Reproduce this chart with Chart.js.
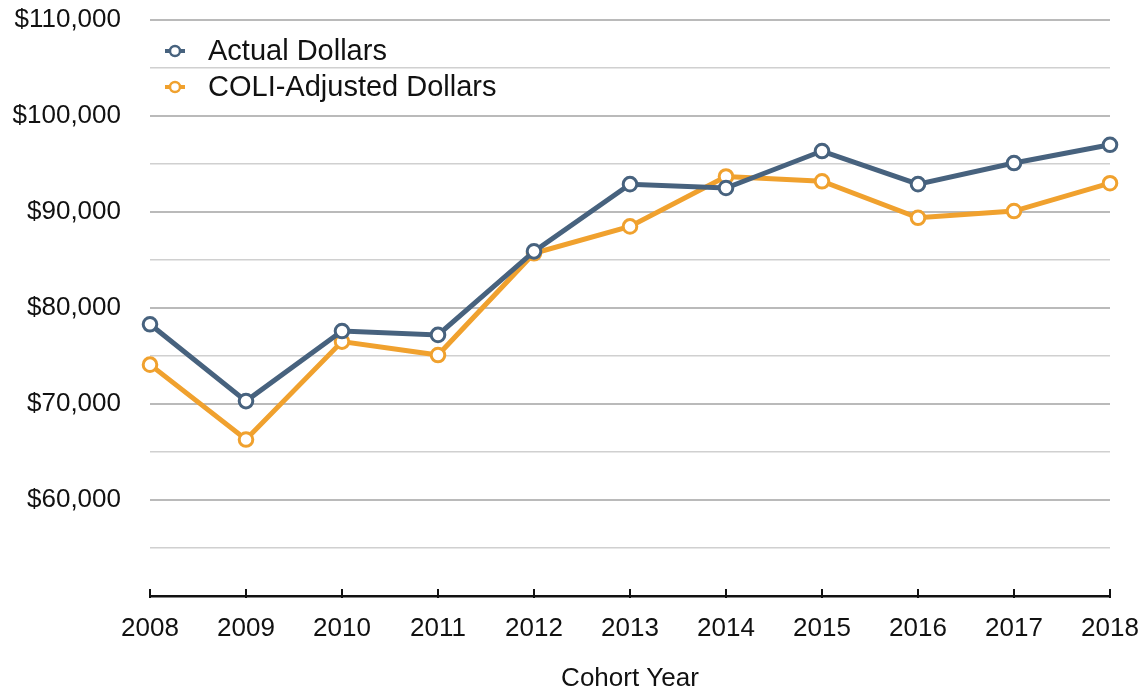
<!DOCTYPE html>
<html>
<head>
<meta charset="utf-8">
<script src="https://cdn.jsdelivr.net/npm/chart.js@4/dist/chart.umd.min.js"></script>
<style>
  html, body { margin: 0; padding: 0; background: #ffffff; }
  #wrap { width: 1146px; height: 692px; position: relative; }
</style>
</head>
<body>
<div id="wrap"><canvas id="c" width="1146" height="692"></canvas></div>
<script>
const years = ['2008','2009','2010','2011','2012','2013','2014','2015','2016','2017','2018'];
const actualDollars = [78300, 70300, 77600, 77200, 85900, 92900, 92500, 96350, 92900, 95100, 97000];
const coliAdjusted  = [74100, 66300, 76500, 75100, 85700, 88500, 93700, 93200, 89400, 90100, 93000];
const seriesNames = ['Actual Dollars', 'COLI-Adjusted Dollars'];
const seriesColors = ['#47627e', '#f0a12e'];
const yMin = 50000, yMax = 110000, yStep = 5000, yLabelStep = 10000;
const xTitle = 'Cohort Year';

const FONT = '"Liberation Sans", Arial, Helvetica, sans-serif';

const upTicks = {
  id: 'upTicks',
  afterDraw(chart) {
    const xs = chart.scales.x;
    const ctx = chart.ctx;
    ctx.save();
    ctx.strokeStyle = '#111';
    ctx.lineWidth = 2;
    xs.ticks.forEach((t, i) => {
      const x = xs.getPixelForTick(i);
      ctx.beginPath();
      ctx.moveTo(x, xs.top - 7);
      ctx.lineTo(x, xs.top + 2);
      ctx.stroke();
    });
    ctx.restore();
  }
};

const customLegend = {
  id: 'customLegend',
  afterDraw(chart) {
    const ctx = chart.ctx;
    const area = chart.chartArea;
    ctx.save();
    chart.data.datasets.forEach((ds, i) => {
      const cy = area.top + 31 + 36 * i;
      const cx = area.left + 25;
      ctx.strokeStyle = ds.borderColor;
      ctx.lineWidth = 4;
      ctx.beginPath();
      ctx.moveTo(cx - 10, cy);
      ctx.lineTo(cx + 10, cy);
      ctx.stroke();
      ctx.beginPath();
      ctx.arc(cx, cy, 5, 0, Math.PI * 2);
      ctx.fillStyle = '#fff';
      ctx.fill();
      ctx.lineWidth = 2.5;
      ctx.stroke();
      ctx.fillStyle = '#111';
      ctx.font = '29px ' + FONT;
      ctx.textBaseline = 'middle';
      ctx.textAlign = 'left';
      ctx.fillText(ds.label, area.left + 58, cy + 1);
    });
    ctx.restore();
  }
};

function makeDataset(label, data, color) {
  return {
    label, data,
    borderColor: color,
    backgroundColor: color,
    borderWidth: 5,
    pointRadius: 6.8,
    pointHoverRadius: 6.8,
    pointBorderWidth: 3,
    pointBackgroundColor: '#ffffff',
    pointBorderColor: color,
    tension: 0,
    clip: false
  };
}

new Chart(document.getElementById('c'), {
  type: 'line',
  data: {
    labels: years,
    datasets: [
      makeDataset(seriesNames[0], actualDollars, seriesColors[0]),
      makeDataset(seriesNames[1], coliAdjusted, seriesColors[1])
    ]
  },
  options: {
    responsive: false,
    animation: false,
    devicePixelRatio: 1,
    layout: { autoPadding: false, padding: { top: 20, right: 36, bottom: 0, left: 0 } },
    plugins: { legend: { display: false }, tooltip: { enabled: false } },
    scales: {
      x: {
        type: 'category',
        offset: false,
        afterFit(s) { s.height = 96; s.paddingLeft = 0; s.paddingRight = 0; },
        grid: { display: true, drawOnChartArea: false, drawTicks: false },
        border: { display: true, color: '#111', width: 2.5 },
        ticks: { color: '#111', padding: 17, maxRotation: 0, autoSkip: false, font: { family: FONT, size: 26 } },
        title: { display: true, text: xTitle, color: '#111', font: { family: FONT, size: 26, lineHeight: 1 }, padding: { top: 0, bottom: 0 } }
      },
      y: {
        min: yMin, max: yMax,
        afterFit(s) { s.width = 150; s.paddingTop = 0; s.paddingBottom = 0; },
        grid: {
          drawTicks: false,
          color: (c) => (c.tick && c.tick.value % yLabelStep === 0) ? '#bababa' : '#d0d0d0',
          lineWidth: (c) => (c.tick && c.tick.value % yLabelStep === 0) ? 2 : 1.5
        },
        border: { display: false },
        ticks: {
          stepSize: yStep,
          padding: 29,
          color: '#111',
          font: { family: FONT, size: 26 },
          callback: (v) => (v % yLabelStep === 0 && v > yMin) ? '$' + v.toLocaleString('en-US') : ''
        }
      }
    }
  },
  plugins: [upTicks, customLegend]
});
</script>
</body>
</html>
